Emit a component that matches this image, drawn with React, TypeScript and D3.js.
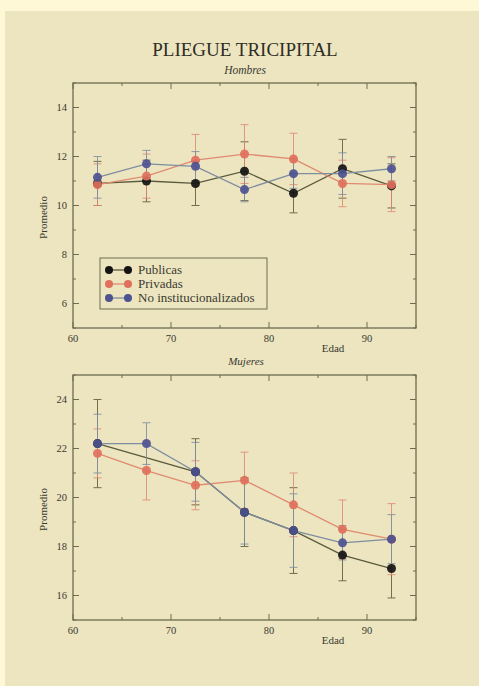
import React from "react";
import * as d3 from "d3";

const ages = [62.5, 67.5, 72.5, 77.5, 82.5, 87.5, 92.5];
const seriesNames = ["Publicas", "Privadas", "No institucionalizados"];
const seriesColors = ["#141414", "#e0705c", "#4d5290"];
const lineColors = ["#5a5a3c", "#e08a70", "#7d8ea0"];

// Hombres
const menPublicas = [10.9, 11.0, 10.9, 11.4, 10.5, 11.5, 10.8];
const menPublicasErr = [0.9, 0.85, 0.9, 1.2, 0.8, 1.2, 0.9];
const menPrivadas = [10.85, 11.2, 11.85, 12.1, 11.9, 10.9, 10.85];
const menPrivadasErr = [0.85, 0.9, 1.05, 1.2, 1.05, 0.95, 1.1];
const menNoInst = [11.15, 11.7, 11.6, 10.65, 11.3, 11.3, 11.5];
const menNoInstErr = [0.85, 0.55, 0.6, 0.5, 0.6, 0.85, 0.5];

// Mujeres
const womenPublicas = [22.2, null, 21.05, 19.4, 18.65, 17.65, 17.1];
const womenPublicasErr = [1.8, 0, 1.35, 1.4, 1.75, 1.05, 1.2];
const womenPrivadas = [21.8, 21.1, 20.5, 20.7, 19.7, 18.7, 18.3];
const womenPrivadasErr = [1.0, 1.2, 1.0, 1.15, 1.3, 1.2, 1.45];
const womenNoInst = [22.2, 22.2, 21.05, 19.4, 18.65, 18.15, 18.3];
const womenNoInstErr = [1.2, 0.85, 1.2, 1.3, 1.5, 0.7, 1.0];

const xTicksMajor = [60, 70, 80, 90];
const xTicksMinor = [65, 75, 85, 95];
const menYTicks = [6, 8, 10, 12, 14];
const womenYTicks = [16, 18, 20, 22, 24];

type Panel = {
  top: number;
  yDomain: [number, number];
  yTicks: number[];
  series: (number | null)[][];
  errs: number[][];
  legend: boolean;
};

const L = 73, R = 416, H = 245;
const serif = "'Liberation Serif', 'DejaVu Serif', serif";
const frameColor = "#6e6c50";
const textColor = "#3a3a30";

function PlotPanel({ p }: { p: Panel }) {
  const x = d3.scaleLinear().domain([60, 95]).range([L, R]);
  const y = d3.scaleLinear().domain(p.yDomain).range([p.top + H, p.top]);
  const minorY: number[] = d3.range(p.yDomain[0], p.yDomain[1] + 0.001, 1).filter((v) => !p.yTicks.includes(v));
  const line = d3.line<[number, number]>().x((d) => x(d[0])).y((d) => y(d[1]));
  const bottom = p.top + H;
  return (
    <g>
      <rect x={L} y={p.top} width={R - L} height={H} fill="none" stroke={frameColor} strokeWidth={1.3} />
      {xTicksMajor.map((t) => (
        <g key={"xm" + t}>
          <line x1={x(t)} x2={x(t)} y1={bottom} y2={bottom - 6} stroke={frameColor} />
          <line x1={x(t)} x2={x(t)} y1={p.top} y2={p.top + 6} stroke={frameColor} />
          <text x={x(t)} y={bottom + 14} fontSize={10.5} textAnchor="middle" fill={textColor} fontFamily={serif}>{t}</text>
        </g>
      ))}
      {xTicksMinor.map((t) => (
        <g key={"xn" + t}>
          <line x1={x(t)} x2={x(t)} y1={bottom} y2={bottom - 3} stroke={frameColor} />
          <line x1={x(t)} x2={x(t)} y1={p.top} y2={p.top + 3} stroke={frameColor} />
        </g>
      ))}
      {p.yTicks.map((t) => (
        <g key={"ym" + t}>
          <line x1={L} x2={L + 6} y1={y(t)} y2={y(t)} stroke={frameColor} />
          <line x1={R} x2={R - 6} y1={y(t)} y2={y(t)} stroke={frameColor} />
          <text x={L - 6} y={y(t) + 3.5} fontSize={10.5} textAnchor="end" fill={textColor} fontFamily={serif}>{t}</text>
        </g>
      ))}
      {minorY.map((t) => (
        <g key={"yn" + t}>
          <line x1={L} x2={L + 3} y1={y(t)} y2={y(t)} stroke={frameColor} />
          <line x1={R} x2={R - 3} y1={y(t)} y2={y(t)} stroke={frameColor} />
        </g>
      ))}
      <text x={333} y={bottom + 24} fontSize={11} textAnchor="middle" fill={textColor} fontFamily={serif}>Edad</text>
      <text transform={`translate(${L - 26},${p.top + H / 2 + 12}) rotate(-90)`} fontSize={11} textAnchor="middle" fill={textColor} fontFamily={serif}>Promedio</text>
      {p.series.map((s, si) => {
        const pts = ages.map((a, i) => [a, s[i]] as [number, number | null]).filter((d) => d[1] !== null) as [number, number][];
        return (
          <path key={"l" + si} d={line(pts) || ""} fill="none" stroke={lineColors[si]} strokeWidth={1.3} />
        );
      })}
      {p.series.map((s, si) => (
        <g key={"e" + si}>
          {ages.map((a, i) => {
            const v = s[i];
            if (v === null) return null;
            const e = p.errs[si][i];
            const cx = x(a);
            return (
              <g key={i} stroke={lineColors[si]} strokeWidth={1} opacity={0.85}>
                <line x1={cx} x2={cx} y1={y(v - e)} y2={y(v + e)} />
                <line x1={cx - 4} x2={cx + 4} y1={y(v - e)} y2={y(v - e)} />
                <line x1={cx - 4} x2={cx + 4} y1={y(v + e)} y2={y(v + e)} />
              </g>
            );
          })}
        </g>
      ))}
      {p.series.map((s, si) => (
        <g key={"p" + si}>
          {ages.map((a, i) => {
            const v = s[i];
            if (v === null) return null;
            return <circle key={i} cx={x(a)} cy={y(v)} r={4.5} fill={seriesColors[si]} opacity={0.92} />;
          })}
        </g>
      ))}
      {p.legend && (
        <g>
          <rect x={100} y={258} width={167} height={51} fill="none" stroke={frameColor} strokeWidth={1} />
          {seriesNames.map((n, i) => {
            const ly = 270 + i * 14;
            return (
              <g key={n}>
                <line x1={109} x2={128} y1={ly} y2={ly} stroke={lineColors[i]} strokeWidth={1.3} />
                <circle cx={109} cy={ly} r={4} fill={seriesColors[i]} />
                <circle cx={128} cy={ly} r={4} fill={seriesColors[i]} />
                <text x={138} y={ly + 4} fontSize={13} fill={textColor} fontFamily={serif}>{n}</text>
              </g>
            );
          })}
        </g>
      )}
    </g>
  );
}

export default function App() {
  const panels: Panel[] = [
    {
      top: 83,
      yDomain: [5, 15],
      yTicks: menYTicks,
      series: [menPublicas, menPrivadas, menNoInst],
      errs: [menPublicasErr, menPrivadasErr, menNoInstErr],
      legend: true,
    },
    {
      top: 375,
      yDomain: [15, 25],
      yTicks: womenYTicks,
      series: [womenPublicas, womenPrivadas, womenNoInst],
      errs: [womenPublicasErr, womenPrivadasErr, womenNoInstErr],
      legend: false,
    },
  ];
  return (
    <svg width={479} height={686} style={{ position: "absolute", left: 0, top: 0 }}>
      <rect x={0} y={0} width={479} height={686} fill="#fff8d6" />
      <rect x={5} y={11} width={474} height={675} fill="#ece5c0" />
      <text x={245} y={56} fontSize={19} textAnchor="middle" fill="#2e2e26" fontFamily={serif}>PLIEGUE TRICIPITAL</text>
      <text x={245} y={74} fontSize={11.5} textAnchor="middle" fontStyle="italic" fill={textColor} fontFamily={serif}>Hombres</text>
      <text x={246} y={365} fontSize={11} textAnchor="middle" fontStyle="italic" fill={textColor} fontFamily={serif}>Mujeres</text>
      {panels.map((p, i) => (
        <PlotPanel key={i} p={p} />
      ))}
    </svg>
  );
}
